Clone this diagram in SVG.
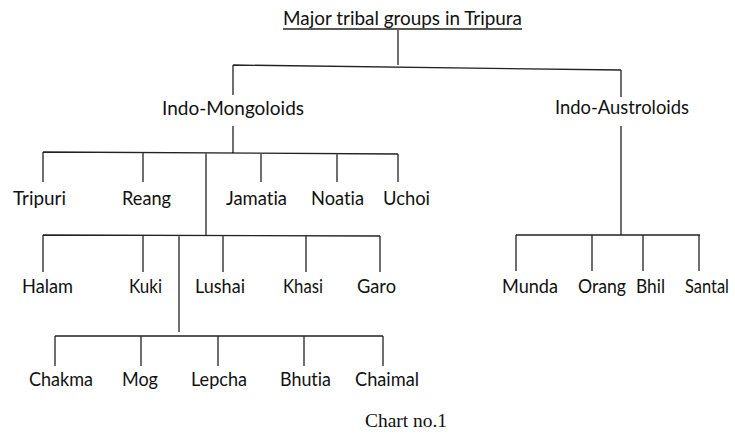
<svg xmlns="http://www.w3.org/2000/svg" width="735" height="434" viewBox="0 0 735 434">
<style>
.t{font-family:Lato,"Open Sans","Liberation Sans",sans-serif;font-size:18.5px;fill:#111;font-variant-ligatures:none}
.c{font-family:"Liberation Serif","Times New Roman",serif;font-size:18px;fill:#111}
.l{stroke:#222;stroke-width:1.3;fill:none}
</style>
<rect width="735" height="434" fill="#fff"/>
<g id="connectors" class="l">
<path d="M398 30V65M233 65L621 70M233 65V95M621 70V97"/>
<path d="M233 126V153M43 152L398 154M43 152V182M143 152V182M206 153V235M261 153V182M337 153V182M398 154V182"/>
<path d="M43 235L380 236M43 235V272M143 235V272M179 235V332M223 235V272M306 236V272M380 236V272"/>
<path d="M55 336L383 336M55 336V366M141 336V366M218 336V366M304 336V366M383 336V366"/>
<path d="M621 126V235M516 235L700 235M516 235V271M592 235V271M643 235V271M699 235V271"/>
</g>
<g id="root"><text class="t" x="283" y="25" textLength="239" lengthAdjust="spacingAndGlyphs">Major tribal groups in Tripura</text><line class="l" x1="283" y1="29" x2="522" y2="29"/></g>
<g id="indo-mongoloids"><text class="t" x="162" y="115" textLength="142" lengthAdjust="spacingAndGlyphs">Indo-Mongoloids</text></g>
<g id="indo-austroloids"><text class="t" x="555" y="114" textLength="134" lengthAdjust="spacingAndGlyphs">Indo-Austroloids</text></g>
<g id="tripuri"><text class="t" x="13" y="205" textLength="53" lengthAdjust="spacingAndGlyphs">Tripuri</text></g>
<g id="reang"><text class="t" x="122" y="205" textLength="49" lengthAdjust="spacingAndGlyphs">Reang</text></g>
<g id="jamatia"><text class="t" x="226" y="205" textLength="61" lengthAdjust="spacingAndGlyphs">Jamatia</text></g>
<g id="noatia"><text class="t" x="311" y="205" textLength="53" lengthAdjust="spacingAndGlyphs">Noatia</text></g>
<g id="uchoi"><text class="t" x="383" y="205" textLength="47" lengthAdjust="spacingAndGlyphs">Uchoi</text></g>
<g id="halam"><text class="t" x="22" y="293" textLength="51" lengthAdjust="spacingAndGlyphs">Halam</text></g>
<g id="kuki"><text class="t" x="129" y="293" textLength="33" lengthAdjust="spacingAndGlyphs">Kuki</text></g>
<g id="lushai"><text class="t" x="195" y="293" textLength="50" lengthAdjust="spacingAndGlyphs">Lushai</text></g>
<g id="khasi"><text class="t" x="283" y="293" textLength="40" lengthAdjust="spacingAndGlyphs">Khasi</text></g>
<g id="garo"><text class="t" x="357" y="293" textLength="39" lengthAdjust="spacingAndGlyphs">Garo</text></g>
<g id="chakma"><text class="t" x="29" y="386" textLength="64" lengthAdjust="spacingAndGlyphs">Chakma</text></g>
<g id="mog"><text class="t" x="122" y="386" textLength="36" lengthAdjust="spacingAndGlyphs">Mog</text></g>
<g id="lepcha"><text class="t" x="191" y="386" textLength="56" lengthAdjust="spacingAndGlyphs">Lepcha</text></g>
<g id="bhutia"><text class="t" x="280" y="386" textLength="51" lengthAdjust="spacingAndGlyphs">Bhutia</text></g>
<g id="chaimal"><text class="t" x="355" y="386" textLength="64" lengthAdjust="spacingAndGlyphs">Chaimal</text></g>
<g id="munda"><text class="t" x="502" y="293" textLength="56" lengthAdjust="spacingAndGlyphs">Munda</text></g>
<g id="orang"><text class="t" x="578" y="293" textLength="48" lengthAdjust="spacingAndGlyphs">Orang</text></g>
<g id="bhil"><text class="t" x="636" y="293" textLength="29" lengthAdjust="spacingAndGlyphs">Bhil</text></g>
<g id="santal"><text class="t" x="685" y="293" textLength="44" lengthAdjust="spacingAndGlyphs">Santal</text></g>
<text class="c" x="365" y="427" textLength="82" lengthAdjust="spacingAndGlyphs">Chart no.1</text>
</svg>
